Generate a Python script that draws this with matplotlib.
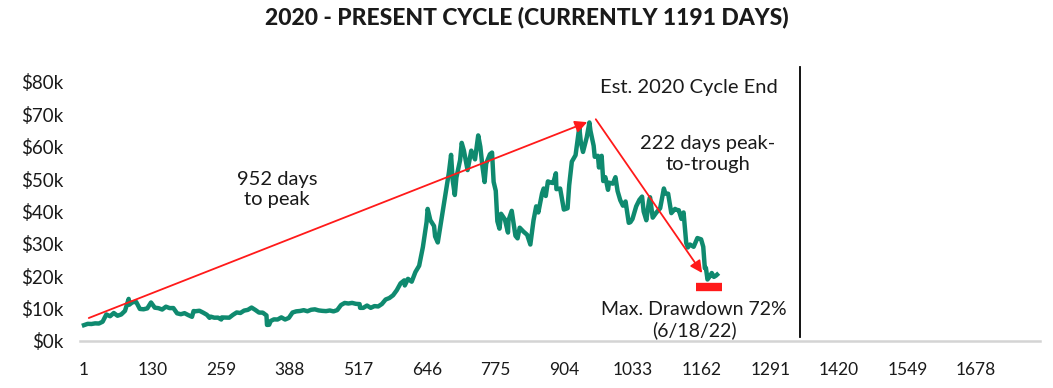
import matplotlib
matplotlib.use("Agg")
import matplotlib.pyplot as plt

# ---- data (day index since cycle start, BTC price in USD) ----
days = [1, 8, 15, 22, 29, 36, 43, 50, 57, 64, 71, 78, 85, 86, 92, 99, 106, 113, 120, 127,
        134, 141, 148, 155, 162, 169, 176, 183, 190, 197, 204, 207, 211, 218, 225, 232, 237, 239,
        246, 253, 259, 260, 267, 274, 281, 288, 295, 302, 309, 316, 323, 330, 337, 344, 345,
        349, 352, 358, 365, 372, 379, 386, 393, 400, 407, 414, 421, 428, 435, 442, 449, 456,
        463, 470, 477, 484, 491, 498, 505, 512, 519, 520, 526, 533, 540, 547, 554, 561, 568,
        575, 582, 589, 596, 603, 604, 610, 617, 624, 631, 638, 645, 647, 652, 659, 661, 666,
        673, 680, 687, 691, 694, 698, 701, 708, 711, 715, 722, 729, 736, 742, 746, 750, 754,
        757, 764, 768, 771, 775, 778, 782, 785, 792, 798, 799, 805, 812, 816, 820, 827, 834,
        840, 846, 851, 855, 862, 865, 869, 873, 879, 883, 888, 889, 896, 903, 910, 913, 918,
        925, 932, 935, 939, 946, 951, 953, 959, 961, 967, 969, 974, 977, 981, 986, 988, 995,
        1000, 1004, 1009, 1014, 1019, 1025, 1028, 1032, 1039, 1045, 1050, 1053, 1058, 1063,
        1065, 1070, 1077, 1084, 1091, 1094, 1099, 1105, 1112, 1115, 1119, 1124, 1128, 1130,
        1133, 1136, 1140, 1147, 1154, 1161, 1165, 1168, 1170, 1173, 1177, 1181, 1185, 1189,
        1191]
price = [4900, 5300, 5250, 5450, 5400, 5950, 8200, 7650, 8650, 7800, 8200, 9300, 13000, 11200,
         11950, 12100, 9900, 9800, 10080, 11900, 10300, 10140, 9720, 10600, 10160, 10180, 8550,
         8270, 8600, 8000, 7470, 9250, 9200, 9340, 8760, 8100, 7150, 7530, 7200, 7220, 6640,
         7280, 7250, 7200, 8080, 8810, 8660, 9390, 9620, 10330, 9600, 8780, 8760, 7900, 4970,
         5010, 6190, 6680, 6640, 7300, 6640, 7130, 8800, 9160, 9270, 9520, 9190, 9650, 9780,
         9450, 9310, 9230, 9430, 9150, 9540, 11100, 11750, 11580, 11770, 11480, 11400, 10240,
         10240, 10950, 10240, 10780, 10670, 11430, 12820, 13270, 14130, 15700, 17800, 18730,
         17150, 19200, 18320, 21310, 23240, 28990, 36770, 40800, 37320, 35500, 32300, 30430,
         37620, 44900, 52100, 57500, 49700, 45100, 50500, 55900, 61200, 58900, 52800, 58800,
         56100, 63500, 60000, 53900, 49100, 54800, 57700, 58200, 49150, 46400, 37000, 34700,
         39300, 37600, 33500, 37300, 40200, 32500, 31700, 35000, 33800, 32800, 29800, 37300,
         41600, 39700, 45600, 47100, 44800, 49300, 48900, 48800, 51800, 46900, 47100, 40600,
         41000, 48100, 55400, 57400, 65990, 61300, 58400, 62900, 67500, 64950, 60300, 56900,
         57200, 53600, 57200, 49400, 50600, 46700, 48900, 48600, 50600, 46300, 43500, 41800,
         43100, 36500, 36700, 37700, 41600, 43600, 44600, 40000, 37300, 43200, 44400, 38100,
         39700, 41000, 47100, 45500, 45500, 39500, 40800, 40500, 40400, 37700, 39700, 36000,
         30300, 28900, 29800, 29100, 31800, 31400, 29100, 22500, 22600, 19000, 19900, 21000,
         19800, 20200, 20500]

x_ticks = [1, 130, 259, 388, 517, 646, 775, 904, 1033, 1162, 1291, 1420, 1549, 1678]
y_ticks = [0, 10000, 20000, 30000, 40000, 50000, 60000, 70000, 80000]
y_labels = ["$0k", "$10k", "$20k", "$30k", "$40k", "$50k", "$60k", "$70k", "$80k"]

title = "2020 - PRESENT CYCLE (CURRENTLY 1191 DAYS)"

plt.rcParams['font.family'] = ['Lato', 'DejaVu Sans']

W, H = 1053, 388
fig = plt.figure(figsize=(W / 100, H / 100), dpi=100)
ax = fig.add_axes([80 / W, (H - 341) / H, (1040 - 80) / W, (341 - 82) / H])

green = "#0f8a6f"
red = "#ff1a1a"
txt = "#1a1a1a"

ax.plot(days, price, color=green, lw=3.2, solid_joinstyle="round", zorder=3)

ax.set_xlim(-6.5, 1798)
ax.set_ylim(0, 80000)

for s in ["top", "right", "left"]:
    ax.spines[s].set_visible(False)
ax.spines["bottom"].set_color("#d4d4d4")
ax.spines["bottom"].set_linewidth(1.8)

ax.set_xticks(x_ticks)
ax.set_xticklabels([str(t) for t in x_ticks])
ax.set_yticks(y_ticks)
ax.set_yticklabels(y_labels)
ax.tick_params(axis="x", length=0, pad=15, labelsize=12.5, colors=txt)
ax.tick_params(axis="y", length=0, pad=12, labelsize=13.5, colors=txt)

# arrows
ax.annotate("", xy=(947, 67600), xytext=(10, 7100),
            arrowprops=dict(arrowstyle="-|>", color=red, lw=1.3, mutation_scale=18,
                            shrinkA=0, shrinkB=0), zorder=4)
ax.annotate("", xy=(1163, 21000), xytext=(963, 68500),
            arrowprops=dict(arrowstyle="-|>", color=red, lw=1.3, mutation_scale=18,
                            shrinkA=0, shrinkB=0), zorder=4)

# drawdown bar
ax.plot([1152, 1200], [16700, 16700], color=red, lw=6, solid_capstyle="butt", zorder=4)

# vertical line
ax.plot([1347, 1347], [1200, 84600], color="black", lw=1.3, clip_on=False, zorder=2)

ax.text(364, 46800, "952 days\nto peak", ha="center", va="center", fontsize=14.5,
        linespacing=1.25, color=txt)
ax.text(1305, 78400, "Est. 2020 Cycle End", ha="right", va="center", fontsize=14.5,
        color=txt)
ax.text(1174, 57700, "222 days peak-\nto-trough", ha="center", va="center", fontsize=14.5,
        linespacing=1.25, color=txt)
ax.text(1148, 6500, "Max. Drawdown 72%\n(6/18/22)", ha="center", va="center", fontsize=14,
        linespacing=1.2, color=txt)

fig.text(0.5, (H - 17) / H, title, ha="center", va="center", fontsize=16.5,
         fontweight="black", color=txt)

fig.savefig("out.png", dpi=100)
